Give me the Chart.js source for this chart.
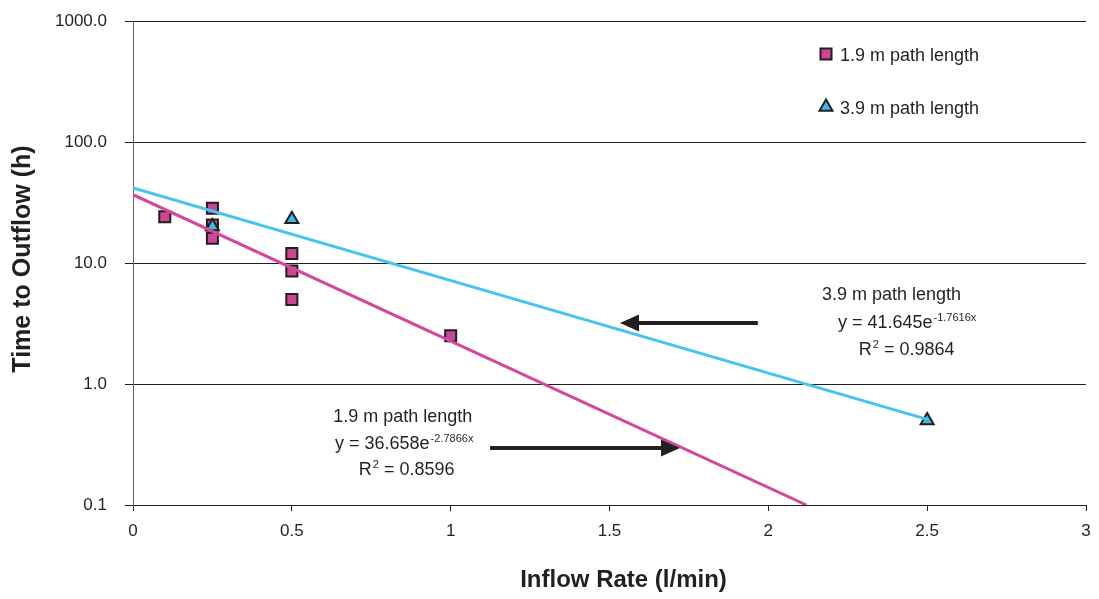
<!DOCTYPE html>
<html><head><meta charset="utf-8">
<script src="https://cdn.jsdelivr.net/npm/chart.js@4.4.1/dist/chart.umd.min.js"></script>
<style>html,body{margin:0;padding:0;background:#fff}canvas{display:block}</style>
</head><body>
<canvas id="c" width="1099" height="599"></canvas>
<script>
// ---- data ----
const seriesNames = ['1.9 m path length', '3.9 m path length'];
const inflow19 = [0.1, 0.25, 0.25, 0.25, 0.5, 0.5, 0.5, 1.0];
const time19   = [24.1, 28.3, 20.6, 16.0, 12.0, 8.6, 5.0, 2.5];
const inflow39 = [0.25, 0.5, 2.5];
const time39   = [20, 23, 0.5];
// exponential trend lines (straight on log axis): end points
const trendX19 = [0, 2.12];
const trendY19 = [36.658, 0.1];
const trendX39 = [0, 2.5];
const trendY39 = [41.645, 0.51];
const yTickValues = [0.1, 1, 10, 100, 1000];
const xTickStep = 0.5;
const xTitle = 'Inflow Rate (l/min)';
const yTitle = 'Time to Outflow (h)';
const eqTitles = ['1.9 m path length', '3.9 m path length'];
const eqMain = ['y = 36.658e', 'y = 41.645e'];
const eqExp = ['-2.7866x', '-1.7616x'];
const eqR2 = ['0.8596', '0.9864'];

// ---- styles ----
const PINK_FILL = '#cd4696', PINK_LINE = '#d4489b';
const BLUE_FILL = '#3cb9e6', BLUE_LINE = '#46c3f0';
const INK = '#231f20';
const FONT = "'Liberation Sans', Arial, sans-serif";

// annotation anchors (data coordinates): [titleX, eqX, r2X], [titleY, eqY, r2Y] (baselines)
const annX = [[0.630, 0.636, 0.711], [2.169, 2.219, 2.285]];
const annY = [[0.485, 0.290, 0.177], [4.94, 2.90, 1.737]];
// arrows in data coordinates
const arrowFrom = [1.124, 1.967];
const arrowTo   = [1.722, 1.533];
const arrowAt   = [0.296, 3.19];

const pts = (xs, ys) => xs.map((x, i) => ({x, y: ys[i]}));

const overlay = {
  id: 'overlay',
  afterDraw(chart) {
    const {ctx, scales: {x, y}, chartArea} = chart;
    ctx.save();
    // arrows
    for (let i = 0; i < arrowFrom.length; i++) {
      const x0 = x.getPixelForValue(arrowFrom[i]);
      const x1 = x.getPixelForValue(arrowTo[i]);
      const py = Math.round(y.getPixelForValue(arrowAt[i]));
      const dir = Math.sign(x1 - x0);
      const hl = 19, hh = 8.5;
      ctx.strokeStyle = INK; ctx.lineWidth = 4; ctx.lineCap = 'butt';
      ctx.beginPath(); ctx.moveTo(x0, py); ctx.lineTo(x1 - dir * (hl - 2), py); ctx.stroke();
      ctx.fillStyle = INK;
      ctx.beginPath(); ctx.moveTo(x1, py); ctx.lineTo(x1 - dir * hl, py - hh); ctx.lineTo(x1 - dir * hl, py + hh); ctx.closePath(); ctx.fill();
    }
    // equation annotations
    ctx.fillStyle = INK; ctx.textAlign = 'left'; ctx.textBaseline = 'alphabetic';
    const big = '18px ' + FONT, small = '11px ' + FONT;
    for (let k = 0; k < 2; k++) {
      const px = annX[k].map(v => x.getPixelForValue(v));
      const py = annY[k].map(v => y.getPixelForValue(v));
      ctx.font = big; ctx.fillText(eqTitles[k], px[0], py[0]);
      ctx.fillText(eqMain[k], px[1], py[1]);
      const w = ctx.measureText(eqMain[k]).width;
      ctx.font = small; ctx.fillText(eqExp[k], px[1] + w + 1, py[1] - 7);
      ctx.font = big; ctx.fillText('R', px[2], py[2]);
      const wr = ctx.measureText('R').width;
      ctx.font = small; ctx.fillText('2', px[2] + wr + 1, py[2] - 7);
      const w2 = ctx.measureText('2').width;
      ctx.font = big; ctx.fillText(' = ' + eqR2[k], px[2] + wr + w2 + 1, py[2]);
    }
    // legend
    const lx = chartArea.right - 260;
    const rows = [{y: chartArea.top + 33, style: 'rect', r: 7.8, fill: PINK_FILL},
                  {y: chartArea.top + 86, style: 'triangle', r: 7.5, fill: BLUE_FILL}];
    rows.forEach((row, i) => {
      ctx.fillStyle = row.fill; ctx.strokeStyle = INK; ctx.lineWidth = 2;
      Chart.helpers.drawPoint(ctx, {pointStyle: row.style, radius: row.r, borderWidth: 2}, lx, row.y);
      ctx.fillStyle = INK; ctx.font = big; ctx.textBaseline = 'alphabetic';
      ctx.fillText(seriesNames[i], lx + 14, row.y + 7);
    });
    // axis titles
    ctx.font = 'bold 24px ' + FONT; ctx.fillStyle = INK; ctx.textAlign = 'center'; ctx.textBaseline = 'alphabetic';
    ctx.fillText(xTitle, (chartArea.left + chartArea.right) / 2 + 14, 587);
    ctx.save();
    ctx.translate(29.5, (chartArea.top + chartArea.bottom) / 2 - 4);
    ctx.rotate(-Math.PI / 2);
    ctx.font = 'bold 25px ' + FONT;
    ctx.fillText(yTitle, 0, 0);
    ctx.restore();
    ctx.restore();
  }
};

new Chart(document.getElementById('c'), {
  type: 'scatter',
  data: {
    datasets: [
      {label: seriesNames[0] + ' trend', data: pts(trendX19, trendY19), showLine: true, borderColor: PINK_LINE, borderWidth: 3, pointRadius: 0, order: 0},
      {label: seriesNames[1] + ' trend', data: pts(trendX39, trendY39), showLine: true, borderColor: BLUE_LINE, borderWidth: 3, pointRadius: 0, order: 0},
      {label: seriesNames[1], data: pts(inflow39, time39), pointStyle: 'triangle', pointRadius: 7.5, backgroundColor: BLUE_FILL, borderColor: INK, borderWidth: 2, order: 1},
      {label: seriesNames[0], data: pts(inflow19, time19), pointStyle: 'rect', pointRadius: 7.8, backgroundColor: PINK_FILL, borderColor: INK, borderWidth: 2, order: 2}
    ]
  },
  options: {
    responsive: false,
    animation: false,
    layout: {padding: {top: 21, right: 13, left: 0, bottom: 0}},
    plugins: {legend: {display: false}, tooltip: {enabled: false}},
    scales: {
      x: {
        type: 'linear', min: 0, max: 3,
        afterFit: s => { s.height = 94; s.paddingLeft = 0; s.paddingRight = 0; },
        ticks: {stepSize: xTickStep, callback: v => String(v), font: {family: FONT, size: 17}, color: INK, padding: 10},
        grid: {drawOnChartArea: false, tickLength: 6, color: INK},
        border: {color: INK, width: 1}
      },
      y: {
        type: 'logarithmic', min: 0.1, max: 1000,
        afterBuildTicks: s => { s.ticks = yTickValues.map(v => ({value: v})); },
        afterFit: s => { s.width = 133; s.paddingTop = 0; s.paddingBottom = 0; },
        ticks: {autoSkip: false, callback: v => Number(v).toFixed(1), font: {family: FONT, size: 17}, color: INK, padding: 18},
        grid: {color: INK, lineWidth: 1, tickLength: 8},
        border: {color: '#666', width: 1}
      }
    }
  },
  plugins: [overlay]
});
</script>
</body></html>
